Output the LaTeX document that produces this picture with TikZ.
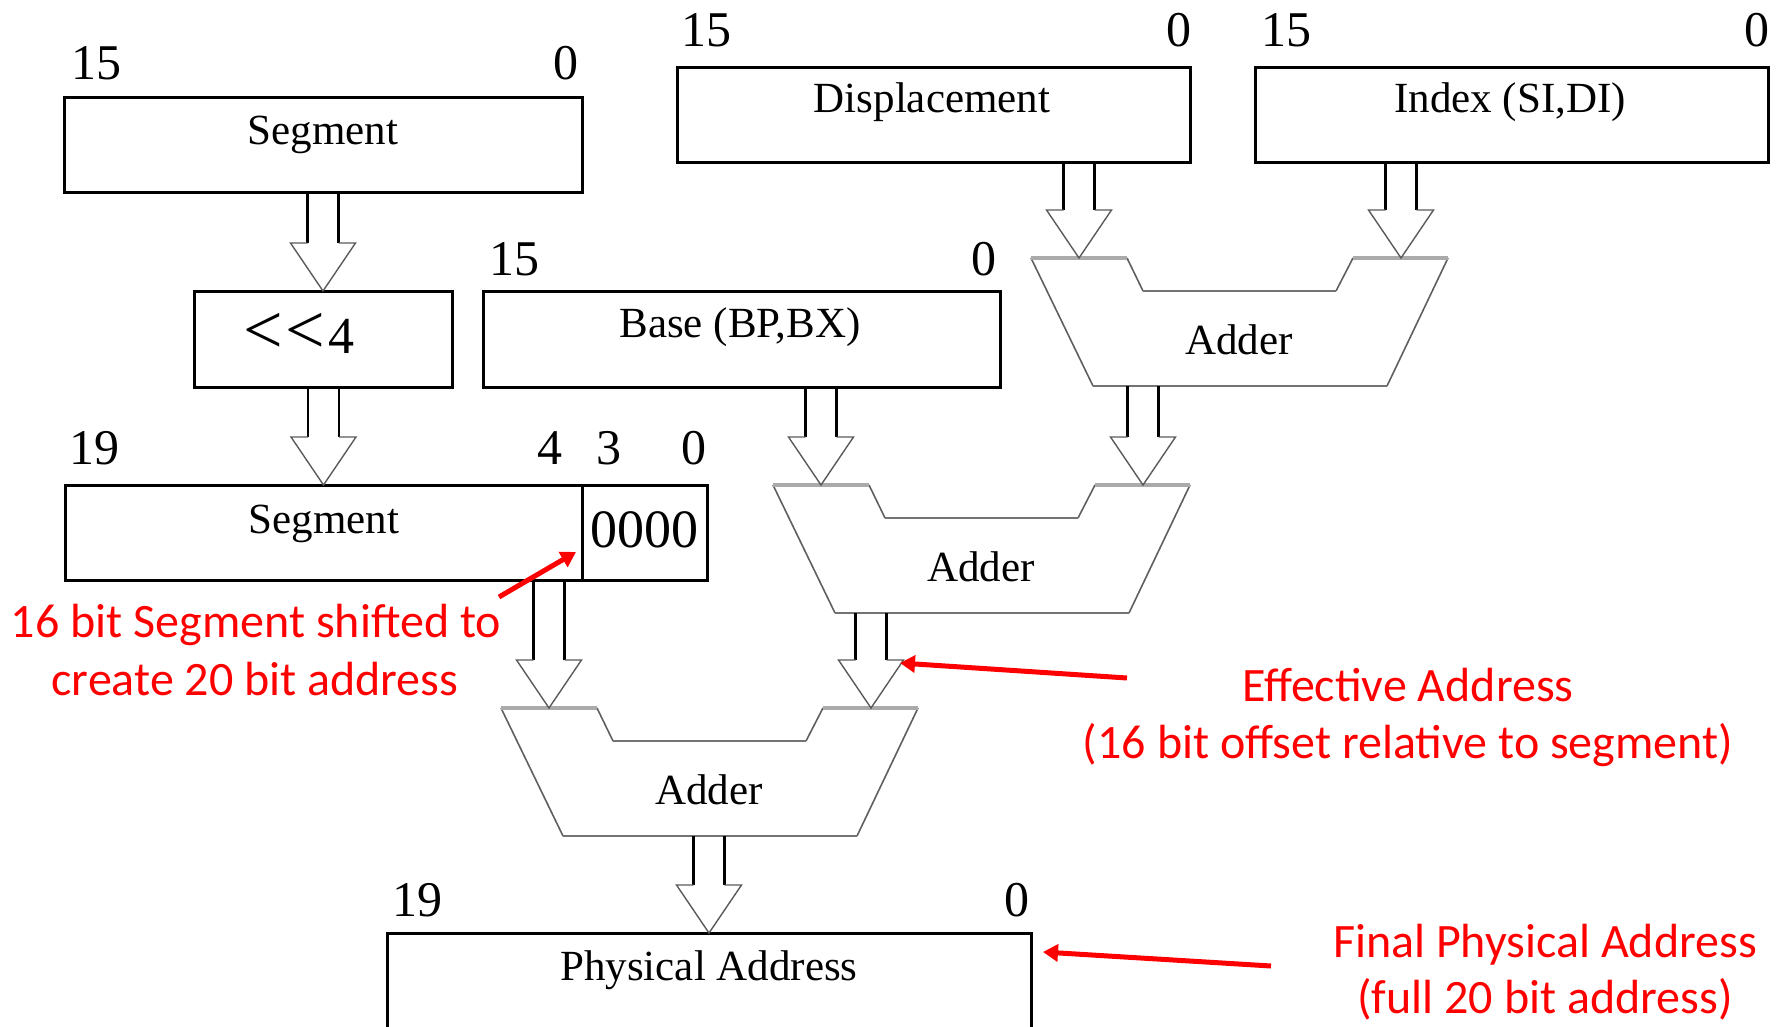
\documentclass[tikz,border=0pt]{standalone}
\usepackage{fontspec}
\setmainfont{Liberation Serif}
\newfontfamily\notefont{Carlito}
\usetikzlibrary{arrows.meta,calc}

\definecolor{notered}{RGB}{255,0,0}
\definecolor{addgray}{RGB}{95,95,95}
\definecolor{addedge}{RGB}{115,115,115}
\definecolor{addtop}{RGB}{170,170,170}
\definecolor{headgray}{RGB}{90,90,90}

\tikzset{
  reg/.style={draw, line width=3pt, inner sep=0pt, outer sep=0pt, anchor=north west},
  boxtext/.style={font=\fontsize{43}{50}\selectfont, inner sep=0pt, anchor=base},
  bitnum/.style={font=\fontsize{50}{60}\selectfont, inner sep=0pt, anchor=base},
  note/.style={font=\notefont\fontsize{48}{58}\selectfont, text=notered, inner sep=0pt, anchor=base},
  noteline/.style={draw=notered, line width=5pt, -{Triangle[length=15pt,width=17pt]}},
  shaftline/.style={draw=black, line width=2.6pt},
  headline/.style={draw=headgray, line width=1.4pt, line join=miter},
  adderside/.style={draw=addgray, line width=1.6pt},
  adderedge/.style={draw=addedge, line width=2.4pt},
  addertop/.style={draw=addtop, line width=3.6pt},
}

% hollow bus arrow: shaft starts at #1, tip ends at #2
\newcommand\busarrow[2]{%
  \draw[shaftline] let \p1=(#1), \p2=(#2) in
    (\x2-15.5pt,\y1) -- (\x2-15.5pt,\y2+48pt)
    (\x2+15.5pt,\y1) -- (\x2+15.5pt,\y2+48pt);
  \draw[headline] let \p2=(#2) in
    (\x2-15.5pt,\y2+48pt) -- (\x2-32.5pt,\y2+48pt) -- (\x2,\y2)
    -- (\x2+32.5pt,\y2+48pt) -- (\x2+15.5pt,\y2+48pt);
}

% adder with two notched inputs; #1 name, (#2,#3) top-left corner
\newcommand\adderunit[3]{%
  \begin{scope}[shift={(#2,#3)}]
    \draw[adderside] (96,0) -- (112,33) (305,33) -- (322,0)
      (417,0) -- (356,128) (62,128) -- (0,0);
    \draw[adderedge] (112,33) -- (305,33) (62,128) -- (356,128);
    \draw[addertop] (0,0) -- (96,0) (322,0) -- (417,0);
    \coordinate (#1-a) at (48,0);
    \coordinate (#1-b) at (370,0);
    \coordinate (#1-bot) at (208,128);
    \node[boxtext] (#1) at (208,96) {Adder};
  \end{scope}}

\begin{document}
\begin{tikzpicture}[x=1pt,y=-1pt]
\useasboundingbox (0,0) rectangle (1783,1027);
\clip (0,0) rectangle (1783,1027);

% registers
\node[reg, minimum width=518pt, minimum height=95pt] (segA) at (64,98) {};
\node[reg, minimum width=258pt, minimum height=96pt] (shl) at (194,291) {};
\node[reg, minimum width=517pt, minimum height=96pt] (base) at (483,291) {};
\node[reg, minimum width=513pt, minimum height=95pt] (disp) at (677,68) {};
\node[reg, minimum width=513pt, minimum height=95pt] (index) at (1255,68) {};
\node[reg, minimum width=517pt, minimum height=95pt] (segB) at (65,485) {};
\node[reg, minimum width=125pt, minimum height=95pt] (zeros) at (582,485) {};
\node[reg, minimum width=644pt, minimum height=130pt] (phys) at (387,933) {};

% register contents
\node[boxtext] (segAT) at (323,145) {Segment};
\node[boxtext, font=\fontsize{52}{60}\selectfont] (shlT) at (299,353)
  {\scalebox{1.35}{<}\kern2pt\scalebox{1.35}{<}\kern3pt4};
\node[boxtext] (baseT) at (740,337) {Base (BP,BX)};
\node[boxtext] (dispT) at (932,113) {Displacement};
\node[boxtext] (indexT) at (1510,113) {Index (SI,DI)};
\node[boxtext] (segBT) at (324,533) {Segment};
\node[boxtext, font=\fontsize{54}{60}\selectfont] (zerosT) at (644,547) {0000};
\node[boxtext] (physT) at (709,980) {Physical Address};

% bit numbers
\node[bitnum] (segA15) at (96,80) {15};
\node[bitnum] (segA0) at (566,80) {0};
\node[bitnum] (disp15) at (706,47) {15};
\node[bitnum] (disp0) at (1179,47) {0};
\node[bitnum] (index15) at (1286,47) {15};
\node[bitnum] (index0) at (1757,47) {0};
\node[bitnum] (base15) at (514,275) {15};
\node[bitnum] (base0) at (984,275) {0};
\node[bitnum] (segB19) at (94,464) {19};
\node[bitnum] (segB4) at (550,464) {4};
\node[bitnum] (segB3) at (609,464) {3};
\node[bitnum] (segB0) at (694,464) {0};
\node[bitnum] (phys19) at (417,916) {19};
\node[bitnum] (phys0) at (1017,916) {0};

% adders
\adderunit{A1}{1031}{258}
\adderunit{A2}{773}{485}
\adderunit{A3}{501}{708}

% data paths
\busarrow{segA.south}{shl.north}
\busarrow{shl.south}{segB.north}
\busarrow{disp.south -| A1-a}{A1-a}
\busarrow{index.south -| A1-b}{A1-b}
\busarrow{base.south -| A2-a}{A2-a}
\busarrow{A1-bot -| A2-b}{A2-b}
\busarrow{segB.south -| A3-a}{A3-a}
\busarrow{A2-bot -| A3-b}{A3-b}
\busarrow{A3-bot}{phys.north}

% annotations
\node[note] (shiftNoteA) at (256,637) {16 bit Segment shifted to};
\node[note] (shiftNoteB) at (255,695) {create 20 bit address};
\node[note] (effNoteA) at (1408,701) {Effective Address};
\node[note] (effNoteB) at (1408,758) {(16 bit offset relative to segment)};
\node[note] (physNoteA) at (1545,957) {Final Physical Address};
\node[note] (physNoteB) at (1545,1013) {(full 20 bit address)};

\coordinate (shiftFrom) at (499,597);
\coordinate (shiftTo) at (576,552);
\coordinate (effFrom) at (1127,678);
\coordinate (effTo) at (900,663);
\coordinate (physFrom) at (1271,966);
\coordinate (physTo) at (1043,952);
\draw[noteline] (shiftFrom) -- (shiftTo);
\draw[noteline] (effFrom) -- (effTo);
\draw[noteline] (physFrom) -- (physTo);
\end{tikzpicture}
\end{document}
